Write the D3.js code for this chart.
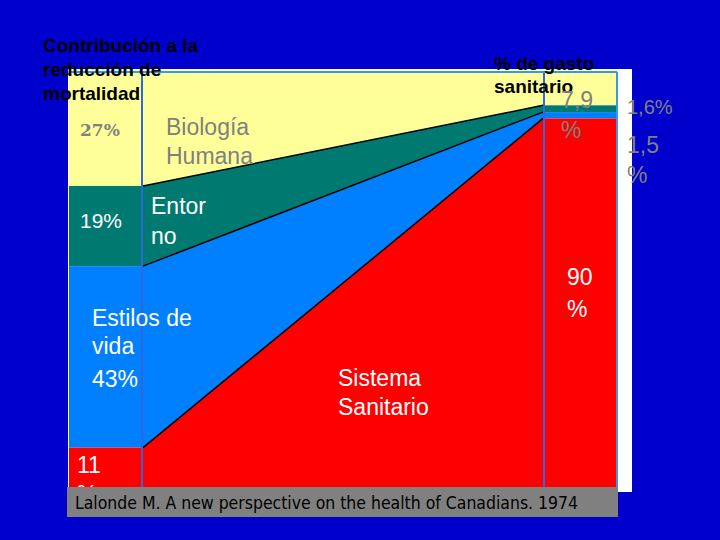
<!DOCTYPE html>
<html><head><meta charset="utf-8">
<script src="https://cdn.jsdelivr.net/npm/d3@7"></script>
<style>body{margin:0;background:#0000CC;}svg{display:block;font-family:Arial,"Liberation Sans",sans-serif;}</style>
</head><body><svg id="c" width="720" height="540"></svg>
<script>
const categories = ["Biología Humana","Entorno","Estilos de vida","Sistema Sanitario"];
const mortalidad = [27,19,43,11];
const gasto = [7.9,1.6,1.5,90];
const colors = ["#FFFF99","#007A70","#0080FF","#FF0000"];

const svg = d3.select("#c");
svg.append("rect").attr("width",720).attr("height",540).attr("fill","#0000CC");
svg.append("rect").attr("x",68).attr("y",69).attr("width",564).attr("height",423).attr("fill","#fff");

const y = d3.scaleLinear().domain([0,100]).range([72,494]);
const xL=[69,141], xR=[545,616], xM=[143,543];
function stack(v){let c=0;return v.map(d=>{const s=[c,c+d];c+=d;return s;});}
const sL=stack(mortalidad), sR=stack(gasto);

svg.selectAll(".l").data(sL).join("rect").attr("x",xL[0]).attr("width",xL[1]-xL[0])
  .attr("y",d=>y(d[0])).attr("height",d=>y(d[1])-y(d[0])).attr("fill",(d,i)=>colors[i]);
svg.selectAll(".r").data(sR).join("rect").attr("x",xR[0]).attr("width",xR[1]-xR[0])
  .attr("y",d=>y(d[0])).attr("height",d=>y(d[1])-y(d[0])).attr("fill",(d,i)=>colors[i]);
const area = d3.area().x(d=>d.x).y0(d=>y(d.a)).y1(d=>y(d.b));
sL.forEach((d,i)=>{
  svg.append("path").attr("d",area([{x:xM[0],a:d[0],b:d[1]},{x:xM[1],a:sR[i][0],b:sR[i][1]}])).attr("fill",colors[i]);
});
const line=d3.line().x(d=>d.x).y(d=>y(d.v));
for(let i=1;i<4;i++){
  svg.append("path").attr("d",line([{x:xM[0],v:sL[i][0]},{x:xM[1],v:sR[i][0]}])).attr("stroke","#000").attr("stroke-width",1.5).attr("fill","none");
}
[142,544].forEach(x=>svg.append("line").attr("x1",x).attr("x2",x).attr("y1",72).attr("y2",494).attr("stroke","#3366DD").attr("stroke-width",2));
svg.append("line").attr("x1",69).attr("x2",617).attr("y1",72).attr("y2",72).attr("stroke","#3399EE").attr("stroke-width",2);
svg.append("line").attr("x1",617).attr("x2",617).attr("y1",72).attr("y2",494).attr("stroke","#3399EE").attr("stroke-width",2);

function T(x,ys,lines,opt){
  lines.forEach((t,k)=>svg.append("text").attr("x",x).attr("y",ys[k]).attr("font-size",opt.s).attr("fill",opt.c)
    .attr("font-weight",opt.w||"normal").attr("font-family",opt.f||null).text(t));
}
T(43,[52,76,100],["Contribución a la","reducción de","mortalidad"],{s:19,c:"#000",w:"bold"});
T(494,[70,93],["% de gasto","sanitario"],{s:19,c:"#000",w:"bold"});
T(80,[136],["27%"],{s:17,c:"#808080",f:"'DejaVu Serif',serif",w:"bold"});
T(166,[135,164],["Biología","Humana"],{s:23,c:"#808080"});
T(80,[228],["19%"],{s:21,c:"#fff"});
T(151,[214,244],["Entor","no"],{s:23,c:"#fff"});
T(92,[326,354,387],["Estilos de","vida","43%"],{s:23,c:"#fff"});
T(338,[386,415],["Sistema","Sanitario"],{s:23,c:"#fff"});
T(77,[473,502],["11","%"],{s:23,c:"#fff"});
T(561,[108,138],["7,9","%"],{s:23,c:"#808080"});
T(567,[285,317],["90","%"],{s:23,c:"#fff"});
T(627,[114],["1,6%"],{s:20,c:"#808080"});
T(627,[153,183],["1,5","%"],{s:23,c:"#808080"});

svg.append("rect").attr("x",67).attr("y",487).attr("width",551).attr("height",30).attr("fill","#808080");
svg.append("text").attr("x",75).attr("y",509).attr("font-size",17).attr("font-family","'DejaVu Sans Condensed','DejaVu Sans',sans-serif").attr("fill","#000")
  .attr("textLength",503).attr("lengthAdjust","spacingAndGlyphs")
  .text("Lalonde M. A new perspective on the health of Canadians. 1974");
</script></body></html>
